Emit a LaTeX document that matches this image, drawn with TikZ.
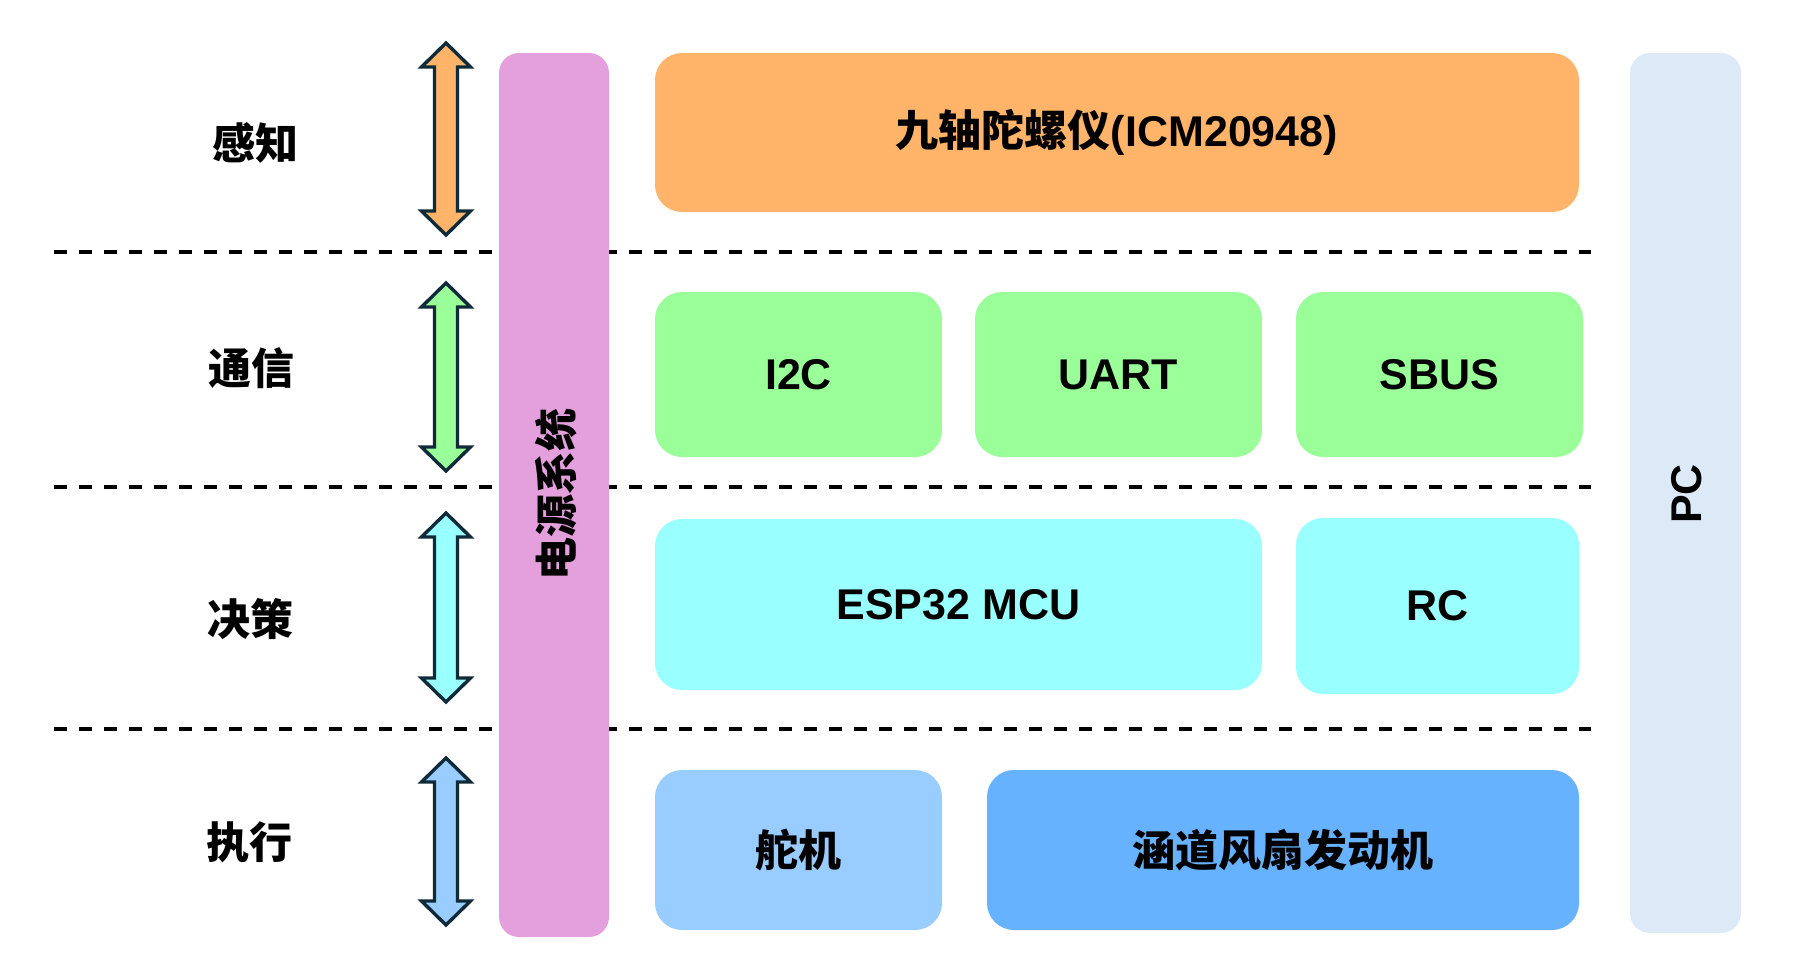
\documentclass[tikz,border=0pt]{standalone}
\usepackage{fontspec}
\setmainfont{Liberation Sans}
\newfontfamily\cjk{Noto Sans CJK SC}
\definecolor{cOrange}{HTML}{FFB469}
\definecolor{cGreen}{HTML}{9BFF99}
\definecolor{cCyan}{HTML}{99FFFF}
\definecolor{cLBlue}{HTML}{99CCFF}
\definecolor{cBlue}{HTML}{66B2FF}
\definecolor{cPink}{HTML}{E4A0DC}
\definecolor{cPC}{HTML}{DCE9F6}
\definecolor{cEdge}{HTML}{0F2A38}
\tikzset{
  txt/.style={font=\fontsize{21.5pt}{26pt}\selectfont\bfseries, text=black},
  blockbox/.style={txt, rounded corners=13.5pt, draw=none, inner sep=0pt},
  barbox/.style={txt, rounded corners=10pt, draw=none, inner sep=0pt},
  layerline/.style={line width=1.65pt, dash pattern=on 6.5pt off 6pt, black},
  dblarrow/.style={draw=cEdge, line width=1.7pt, line join=miter},
}
\newcommand{\dblarr}[4]{% #1 center x, #2 top, #3 bottom, #4 colour
  \filldraw[dblarrow, fill=#4]
    (#1,#2) -- ++(24.5,24) -- ++(-13,0) -- (#1+11.5,#3-24) -- ++(13,0) -- (#1,#3)
    -- ++(-24.5,-24) -- ++(13,0) -- (#1-11.5,#2+24) -- ++(-13,0) -- cycle;
}
\begin{document}
\begin{tikzpicture}[x=0.5pt,y=-0.5pt]
\path[use as bounding box] (0,0) rectangle (1801,959);

% layer separators
\coordinate (l1a) at (54,252);  \coordinate (l1b) at (1591,252);
\coordinate (l2a) at (54,487);  \coordinate (l2b) at (1591,487);
\coordinate (l3a) at (54,729);  \coordinate (l3b) at (1591,729);
\draw[layerline] (l1a) -- (l1b);
\draw[layerline] (l2a) -- (l2b);
\draw[layerline] (l3a) -- (l3b);

% layer labels
\node[txt] (sense) at (255,143) {\cjk 感知};
\node[txt] (comm)  at (251,368) {\cjk 通信};
\node[txt] (dec)   at (250,619) {\cjk 决策};
\node[txt] (act)   at (249,842) {\cjk 执行};

% double arrows
\dblarr{446}{43}{235}{cOrange}
\dblarr{446}{283}{471}{cGreen}
\dblarr{446}{513}{702}{cCyan}
\dblarr{446}{758}{925}{cLBlue}

% power bar
\node[barbox, fill=cPink, minimum width=55pt, minimum height=442pt] (power) at (554,495) {};
\node[txt, rotate=90] (powertxt) at (556,494) {\cjk 电源系统};

% PC bar
\node[barbox, fill=cPC, minimum width=55.5pt, minimum height=440pt] (pc) at (1685.5,493) {};
\node[txt, rotate=90] (pctxt) at (1687,494) {PC};

% blocks
\node[blockbox, fill=cOrange, minimum width=462pt, minimum height=79.5pt] (imu) at (1117,132.5) {{\cjk 九轴陀螺仪}(ICM20948)};
\node[blockbox, fill=cGreen, minimum width=143.5pt, minimum height=82.5pt] (i2c) at (798.5,374.5) {I2C};
\node[blockbox, fill=cGreen, minimum width=143.5pt, minimum height=82.5pt] (uart) at (1118.5,374.5) {UART};
\node[blockbox, fill=cGreen, minimum width=143.5pt, minimum height=82.5pt] (sbus) at (1439.5,374.5) {SBUS};
\node[blockbox, fill=cCyan, minimum width=303.5pt, minimum height=85.5pt] (esp) at (958.5,604.5) {ESP32 MCU};
\node[blockbox, fill=cCyan, minimum width=141.5pt, minimum height=88pt] (rc) at (1437.5,606) {RC};
\node[blockbox, fill=cLBlue, minimum width=143.5pt, minimum height=80pt] (servo) at (798.5,850) {\cjk 舵机};
\node[blockbox, fill=cBlue, minimum width=296pt, minimum height=80pt] (edf) at (1283,850) {\cjk 涵道风扇发动机};
\end{tikzpicture}
\end{document}
